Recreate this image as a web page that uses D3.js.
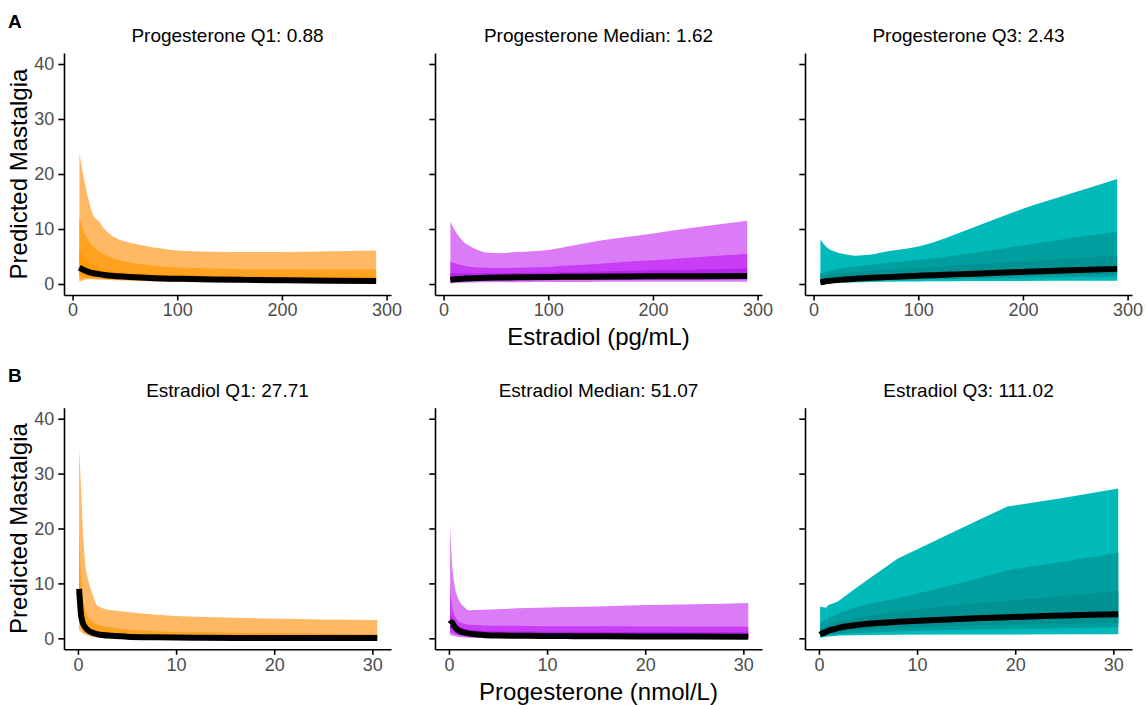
<!DOCTYPE html>
<html>
<head>
<meta charset="utf-8">
<script src="https://cdn.jsdelivr.net/npm/d3@7"></script>
<style>
  body { margin: 0; background: #fff; }
  text { font-family: "Liberation Sans", Arial, sans-serif; }
  .axis .domain, .axis line { stroke: #000; stroke-width: 1.6px; }
  .axis text { fill: #4d4d4d; font-size: 18px; }
</style>
</head>
<body>
<svg id="chart" width="1146" height="705"></svg>
<script>
// x grids (estradiol for row A, progesterone for row B)
var estradiolGrid = [6.5, 10, 15, 20, 25, 30, 40, 55, 70, 100, 115, 135, 165, 200, 245, 290];
var progesteroneGrid = [0.12, 0.3, 0.5, 0.75, 1, 1.5, 2, 3.5, 5, 8, 12, 16, 19.2, 25, 30.5];

var titlesA = ["Progesterone Q1: 0.88", "Progesterone Median: 1.62", "Progesterone Q3: 2.43"];
var titlesB = ["Estradiol Q1: 27.71", "Estradiol Median: 51.07", "Estradiol Q3: 111.02"];
var yTicks = [0, 10, 20, 30, 40];
var xTicksA = [0, 100, 200, 300];
var xTicksB = [0, 10, 20, 30];

// row A, panel 1 (progesterone Q1)
var a1Hi95 = [23.8, 20.0, 15.5, 12.4, 11.4, 10.1, 8.5, 7.5, 6.9, 6.1, 5.95, 5.85, 5.8, 5.8, 5.95, 6.1];
var a1Hi80 = [12.2, 10.0, 8.0, 6.8, 6.0, 5.4, 4.6, 3.9, 3.5, 3.0, 2.9, 2.8, 2.7, 2.7, 2.65, 2.65];
var a1Hi50 = [6.2, 5.0, 4.0, 3.4, 3.0, 2.75, 2.35, 2.0, 1.85, 1.6, 1.55, 1.5, 1.42, 1.35, 1.3, 1.3];
var a1Med  = [3.0, 2.6, 2.2, 1.95, 1.8, 1.65, 1.45, 1.28, 1.15, 0.95, 0.9, 0.82, 0.75, 0.68, 0.6, 0.55];
var a1Lo50 = [1.8, 1.6, 1.4, 1.3, 1.2, 1.1, 1.0, 0.88, 0.8, 0.65, 0.6, 0.55, 0.5, 0.45, 0.4, 0.38];
var a1Lo80 = [1.0, 1.05, 1.05, 1.0, 0.95, 0.9, 0.82, 0.72, 0.65, 0.5, 0.46, 0.42, 0.37, 0.32, 0.28, 0.25];
var a1Lo95 = [0.4, 0.7, 0.85, 0.85, 0.82, 0.78, 0.7, 0.6, 0.52, 0.38, 0.34, 0.3, 0.25, 0.2, 0.16, 0.14];

// row A, panel 2 (progesterone median)
var a2Hi95 = [11.3, 10.0, 8.6, 7.5, 6.9, 6.4, 5.75, 5.6, 5.8, 6.2, 6.7, 7.4, 8.3, 9.2, 10.4, 11.5];
var a2Hi80 = [4.05, 3.8, 3.5, 3.3, 3.15, 3.05, 2.95, 2.9, 2.95, 3.1, 3.3, 3.5, 3.9, 4.3, 4.9, 5.5];
var a2Hi50 = [2.0, 1.95, 1.9, 1.9, 1.9, 1.9, 1.9, 1.95, 2.0, 2.1, 2.15, 2.2, 2.35, 2.5, 2.65, 2.8];
var a2Med  = [0.75, 0.85, 0.92, 0.98, 1.02, 1.06, 1.12, 1.18, 1.22, 1.28, 1.31, 1.34, 1.37, 1.4, 1.43, 1.46];
var a2Lo50 = [0.5, 0.6, 0.67, 0.72, 0.76, 0.8, 0.85, 0.9, 0.93, 0.98, 1.0, 1.02, 1.05, 1.08, 1.1, 1.12];
var a2Lo80 = [0.3, 0.38, 0.44, 0.48, 0.51, 0.54, 0.58, 0.62, 0.65, 0.69, 0.7, 0.72, 0.74, 0.76, 0.78, 0.8];
var a2Lo95 = [0.12, 0.17, 0.22, 0.25, 0.27, 0.29, 0.31, 0.33, 0.34, 0.36, 0.37, 0.38, 0.39, 0.4, 0.41, 0.42];

// row A, panel 3 (progesterone Q3)
var a3Hi95 = [8.1, 7.2, 6.3, 5.9, 5.6, 5.4, 5.15, 5.35, 5.9, 6.8, 7.6, 9.0, 11.2, 13.7, 16.4, 19.1];
var a3Hi80 = [1.95, 2.15, 2.4, 2.6, 2.8, 2.95, 3.2, 3.5, 3.8, 4.35, 4.7, 5.2, 6.0, 7.0, 8.3, 9.5];
var a3Hi50 = [1.5, 1.6, 1.75, 1.85, 1.95, 2.05, 2.2, 2.35, 2.55, 2.9, 3.1, 3.35, 3.7, 4.1, 4.65, 5.2];
var a3Med  = [0.3, 0.42, 0.55, 0.66, 0.75, 0.83, 0.97, 1.12, 1.25, 1.5, 1.6, 1.75, 1.95, 2.2, 2.5, 2.75];
var a3Lo50 = [0.25, 0.33, 0.45, 0.55, 0.62, 0.7, 0.8, 0.92, 1.02, 1.18, 1.26, 1.36, 1.48, 1.6, 1.7, 1.78];
var a3Lo80 = [0.15, 0.22, 0.32, 0.4, 0.46, 0.52, 0.6, 0.68, 0.75, 0.85, 0.9, 0.97, 1.05, 1.12, 1.22, 1.3];
var a3Lo95 = [0.05, 0.1, 0.16, 0.2, 0.24, 0.27, 0.32, 0.38, 0.42, 0.46, 0.48, 0.5, 0.53, 0.55, 0.58, 0.6];

// row B, panel 1 (estradiol Q1)
var b1Hi95 = [34.7, 28, 20, 13.5, 11.0, 8.0, 5.9, 5.1, 4.8, 4.3, 3.95, 3.75, 3.6, 3.45, 3.35];
var b1Hi80 = [20, 12, 7.5, 5.2, 4.0, 3.0, 2.5, 1.95, 1.6, 1.3, 1.1, 1.0, 0.92, 0.85, 0.8];
var b1Hi50 = [13, 6.5, 4.0, 2.8, 2.2, 1.55, 1.2, 0.8, 0.58, 0.42, 0.33, 0.3, 0.28, 0.27, 0.27];
var b1Med  = [9.0, 4.5, 2.8, 2.0, 1.5, 1.0, 0.75, 0.45, 0.3, 0.18, 0.1, 0.08, 0.07, 0.06, 0.05];
var b1Lo50 = [5.5, 3.2, 2.0, 1.4, 1.05, 0.7, 0.5, 0.28, 0.18, 0.1, 0.06, 0.05, 0.045, 0.04, 0.035];
var b1Lo80 = [3.0, 2.2, 1.4, 1.0, 0.75, 0.5, 0.35, 0.18, 0.11, 0.06, 0.035, 0.03, 0.025, 0.022, 0.02];
var b1Lo95 = [1.5, 1.2, 0.9, 0.65, 0.5, 0.3, 0.2, 0.1, 0.06, 0.03, 0.02, 0.015, 0.012, 0.01, 0.01];

// row B, panel 2 (estradiol median)
var b2Hi95 = [20.8, 14, 10.5, 8.2, 7.0, 5.8, 5.1, 5.2, 5.3, 5.5, 5.7, 5.85, 6.0, 6.2, 6.45];
var b2Hi80 = [9, 6.0, 4.5, 3.6, 3.1, 2.7, 2.45, 2.35, 2.3, 2.25, 2.2, 2.18, 2.15, 2.12, 2.1];
var b2Hi50 = [4.5, 3.8, 3.2, 2.6, 2.2, 1.8, 1.6, 1.4, 1.3, 1.22, 1.18, 1.15, 1.13, 1.1, 1.08];
var b2Med  = [2.6, 2.9, 2.3, 1.75, 1.4, 1.1, 0.9, 0.62, 0.52, 0.45, 0.4, 0.37, 0.35, 0.33, 0.3];
var b2Lo50 = [1.6, 1.8, 1.4, 1.1, 0.9, 0.7, 0.55, 0.38, 0.3, 0.25, 0.22, 0.2, 0.19, 0.18, 0.17];
var b2Lo80 = [1.0, 1.0, 0.85, 0.65, 0.55, 0.42, 0.33, 0.2, 0.16, 0.13, 0.12, 0.11, 0.1, 0.1, 0.1];
var b2Lo95 = [0.6, 0.5, 0.4, 0.32, 0.25, 0.17, 0.12, 0.08, 0.06, 0.05, 0.045, 0.04, 0.04, 0.04, 0.04];

// row B, panel 3 (estradiol Q3)
var b3Hi95 = [5.7, 5.75, 5.6, 5.6, 6.1, 6.4, 6.8, 8.8, 10.7, 14.5, 17.9, 21.3, 24.0, 25.6, 27.3];
var b3Hi80 = [2.7, 3.0, 3.25, 3.5, 3.7, 4.1, 4.5, 5.5, 6.2, 7.3, 9.0, 10.8, 12.4, 14.0, 15.6];
var b3Hi50 = [1.5, 1.75, 2.0, 2.2, 2.4, 2.75, 3.0, 3.6, 4.1, 4.85, 5.65, 6.35, 6.85, 7.75, 8.6];
var b3Med  = [0.65, 0.85, 1.0, 1.2, 1.4, 1.65, 1.9, 2.35, 2.65, 3.0, 3.35, 3.65, 3.85, 4.15, 4.4];
var b3Lo50 = [0.45, 0.6, 0.7, 0.8, 0.9, 1.05, 1.2, 1.45, 1.6, 1.9, 2.15, 2.35, 2.5, 2.65, 2.8];
var b3Lo80 = [0.3, 0.4, 0.48, 0.55, 0.6, 0.7, 0.8, 0.95, 1.05, 1.25, 1.45, 1.6, 1.7, 1.85, 2.0];
var b3Lo95 = [0.1, 0.18, 0.24, 0.3, 0.35, 0.42, 0.5, 0.56, 0.6, 0.65, 0.68, 0.7, 0.7, 0.72, 0.75];

// band fills: [95%, 80%, 50%]
var orangeFills = ["#ffb964", "#ffa21f", "#ff9a05"];
var purpleFills = ["#db7bf7", "#c83df5", "#b823ea"];
var tealFills = ["#00b9b9", "#009e9e", "#009292"];

var svg = d3.select("#chart");

var colLeft = [64, 435, 805],
    panelW = 327;
var rows = [
    { top: 53, bottom: 295, grid: estradiolGrid, xDomain: [-8.2, 304.2], xTicks: xTicksA, titles: titlesA,
      letter: "A", letterY: 28, titleY: 41.7, xLabel: "Estradiol (pg/mL)", xLabelY: 345,
      panels: [
        [a1Lo95, a1Hi95, a1Lo80, a1Hi80, a1Lo50, a1Hi50, a1Med],
        [a2Lo95, a2Hi95, a2Lo80, a2Hi80, a2Lo50, a2Hi50, a2Med],
        [a3Lo95, a3Hi95, a3Lo80, a3Hi80, a3Lo50, a3Hi50, a3Med]],
      curves: [d3.curveMonotoneX, d3.curveMonotoneX, d3.curveMonotoneX] },
    { top: 407.7, bottom: 649.3, grid: progesteroneGrid, xDomain: [-1.42, 31.9], xTicks: xTicksB, titles: titlesB,
      letter: "B", letterY: 382, titleY: 396.7, xLabel: "Progesterone (nmol/L)", xLabelY: 700,
      panels: [
        [b1Lo95, b1Hi95, b1Lo80, b1Hi80, b1Lo50, b1Hi50, b1Med],
        [b2Lo95, b2Hi95, b2Lo80, b2Hi80, b2Lo50, b2Hi50, b2Med],
        [b3Lo95, b3Hi95, b3Lo80, b3Hi80, b3Lo50, b3Hi50, b3Med]],
      curves: [d3.curveMonotoneX, d3.curveMonotoneX, d3.curveLinear] } // Q3 ribbon has sharp corners
];
var fills = [orangeFills, purpleFills, tealFills];

rows.forEach(function(row) {
    var y = d3.scaleLinear().domain([-2, 42]).range([row.bottom, row.top]);

    svg.append("text")
        .attr("x", 8).attr("y", row.letterY)
        .style("font-size", "19px").style("font-weight", "bold")
        .text(row.letter);

    // y axis title
    svg.append("text")
        .attr("transform", "translate(27," + (row.top + row.bottom) / 2 + ") rotate(-90)")
        .attr("text-anchor", "middle")
        .style("font-size", "24px")
        .text("Predicted Mastalgia");

    // x axis title under middle panel
    svg.append("text")
        .attr("x", colLeft[1] + panelW / 2).attr("y", row.xLabelY)
        .attr("text-anchor", "middle")
        .style("font-size", "24px")
        .text(row.xLabel);

    row.panels.forEach(function(bands, i) {
        var x = d3.scaleLinear().domain(row.xDomain).range([colLeft[i], colLeft[i] + panelW]);
        var pts = row.grid.map(function(g, k) {
            return { x: g, lo95: bands[0][k], hi95: bands[1][k], lo80: bands[2][k], hi80: bands[3][k],
                     lo50: bands[4][k], hi50: bands[5][k], med: bands[6][k] };
        });

        var g = svg.append("g");
        [["lo95", "hi95"], ["lo80", "hi80"], ["lo50", "hi50"]].forEach(function(k, j) {
            var area = d3.area()
                .curve(row.curves[i])
                .x(function(d) { return x(d.x); })
                .y0(function(d) { return y(d[k[0]]); })
                .y1(function(d) { return y(d[k[1]]); });
            g.append("path").datum(pts)
                .attr("d", area)
                .attr("fill", fills[i][j]);
        });

        var line = d3.line()
            .curve(d3.curveMonotoneX)
            .x(function(d) { return x(d.x); })
            .y(function(d) { return y(d.med); });
        g.append("path").datum(pts)
            .attr("d", line)
            .attr("fill", "none")
            .attr("stroke", "#000")
            .attr("stroke-width", 6)
            .attr("stroke-linejoin", "round");

        // axes
        var yAxis = d3.axisLeft(y).tickValues(yTicks).tickSize(5.7).tickPadding(4).tickSizeOuter(0);
        if (i > 0) yAxis.tickFormat("");
        svg.append("g")
            .attr("class", "axis")
            .attr("transform", "translate(" + colLeft[i] + ",0)")
            .call(yAxis);

        svg.append("g")
            .attr("class", "axis")
            .attr("transform", "translate(0," + row.bottom + ")")
            .call(d3.axisBottom(x).tickValues(row.xTicks).tickSize(5.5).tickPadding(3).tickSizeOuter(0));

        svg.append("text")
            .attr("x", colLeft[i] + panelW / 2).attr("y", row.titleY)
            .attr("text-anchor", "middle")
            .style("font-size", "19px")
            .text(row.titles[i]);
    });
});
</script>
</body>
</html>
